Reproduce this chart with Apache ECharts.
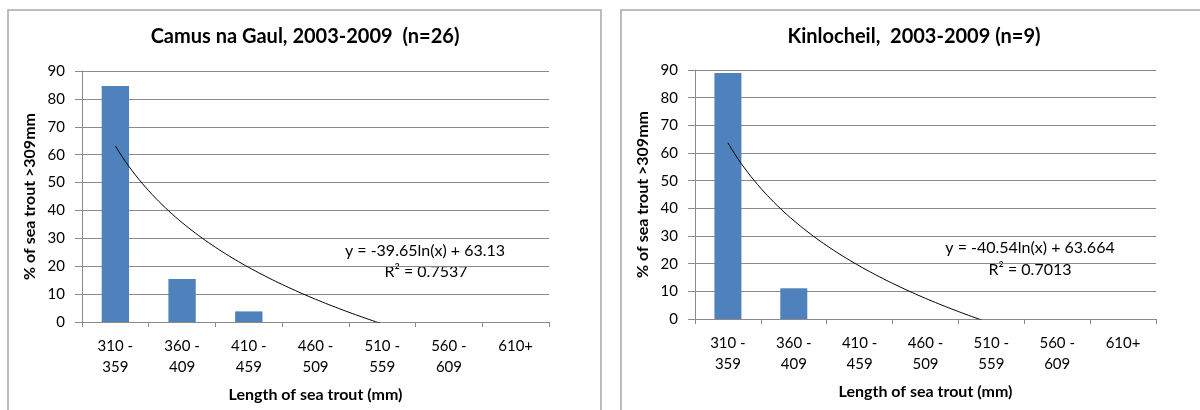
<!DOCTYPE html>
<html>
<head>
<meta charset="utf-8">
<script src="https://cdn.jsdelivr.net/npm/echarts@6/dist/echarts.min.js"></script>
<style>
html,body{margin:0;padding:0;background:#fff;}
#chart{width:1200px;height:410px;}
</style>
</head>
<body>
<div id="chart"></div>
<script>
// ---- data ----
const categories = ['310 -\n359', '360 -\n409', '410 -\n459', '460 -\n509', '510 -\n559', '560 -\n609', '610+'];
const camusValues = [84.6, 15.4, 3.8, 0, 0, 0, 0];
const kinlocheilValues = [88.9, 11.1, 0, 0, 0, 0, 0];
const yTickRange = [0, 90, 10]; // min, max, interval
const camusTrendCoef = [-39.65, 63.13];      // y = a ln(x) + b
const kinlocheilTrendCoef = [-40.54, 63.664];
const camusR2 = '0.7537';
const kinlocheilR2 = '0.7013';
const titles = ['Camus na Gaul, 2003-2009  (n=26)', 'Kinlocheil,  2003-2009 (n=9)'];
const yName = '% of sea trout >309mm';
const xName = 'Length of sea trout (mm)';

const FONT = 'Lato, "Open Sans", sans-serif';
const GRIDC = '#8a8a8a';

function trendPoints(coef, n) {
  const pts = [];
  for (let x = 1; x <= n; x += 0.05) {
    pts.push([x, coef[0] * Math.log(x) + coef[1]]);
  }
  return pts;
}

const grids = [
  {left: 82, top: 71, width: 467, height: 251},
  {left: 695, top: 70, width: 461, height: 249}
];

function xCat(i) {
  return {
    type: 'category', gridIndex: i, data: categories,
    axisLine: {show: true, lineStyle: {color: GRIDC}},
    axisTick: {show: true, length: 5, lineStyle: {color: GRIDC}},
    axisLabel: {color: '#000', fontFamily: FONT, fontSize: 15, lineHeight: 21, margin: 14},
    name: xName, nameLocation: 'middle', nameGap: 65,
    nameTextStyle: {color: '#000', fontFamily: FONT, fontSize: 16, fontWeight: 'bold'}
  };
}
function xVal(i) {
  return {type: 'value', gridIndex: i, min: 0.5, max: categories.length + 0.5, show: false};
}
function yAx(i) {
  return {
    type: 'value', gridIndex: i, min: yTickRange[0], max: yTickRange[1], interval: yTickRange[2],
    axisLine: {show: true, lineStyle: {color: GRIDC}},
    axisTick: {show: true, length: 7, lineStyle: {color: GRIDC}},
    splitLine: {show: true, lineStyle: {color: GRIDC, width: 1}},
    axisLabel: {color: '#000', fontFamily: FONT, fontSize: 15, margin: 17},
    name: yName, nameLocation: 'middle', nameRotate: 90, nameGap: 44,
    nameTextStyle: {color: '#000', fontFamily: FONT, fontSize: 16, fontWeight: 'bold'}
  };
}

const chart = echarts.init(document.getElementById('chart'), null, {renderer: 'canvas'});
chart.setOption({
  animation: false,
  backgroundColor: '#fff',
  grid: grids,
  xAxis: [xCat(0), xCat(1), xVal(0), xVal(1)],
  yAxis: [yAx(0), yAx(1)],
  series: [
    {type: 'bar', xAxisIndex: 0, yAxisIndex: 0, data: camusValues, barWidth: '41%',
     itemStyle: {color: '#4F81BD'}},
    {type: 'bar', xAxisIndex: 1, yAxisIndex: 1, data: kinlocheilValues, barWidth: '41%',
     itemStyle: {color: '#4F81BD'}},
    {type: 'line', xAxisIndex: 2, yAxisIndex: 0, data: trendPoints(camusTrendCoef, categories.length),
     showSymbol: false, clip: true, lineStyle: {color: '#000', width: 1}},
    {type: 'line', xAxisIndex: 3, yAxisIndex: 1, data: trendPoints(kinlocheilTrendCoef, categories.length),
     showSymbol: false, clip: true, lineStyle: {color: '#000', width: 1}}
  ],
  graphic: [
    {type: 'rect', shape: {x: 8, y: 10, width: 593, height: 420}, style: {fill: 'none', stroke: '#a6a6a6', lineWidth: 1.5}, silent: true},
    {type: 'rect', shape: {x: 621, y: 10, width: 620, height: 420}, style: {fill: 'none', stroke: '#a6a6a6', lineWidth: 1.5}, silent: true},
    {type: 'text', x: 305, y: 37, style: {text: titles[0], fontFamily: FONT, fontSize: 20, fontWeight: 'bold', fill: '#000', textAlign: 'center', textVerticalAlign: 'middle'}},
    {type: 'text', x: 914, y: 37, style: {text: titles[1], fontFamily: FONT, fontSize: 20, fontWeight: 'bold', fill: '#000', textAlign: 'center', textVerticalAlign: 'middle'}},
    {type: 'text', x: 425, y: 251, style: {text: 'y = ' + camusTrendCoef[0] + 'ln(x) + ' + camusTrendCoef[1], fontFamily: FONT, fontSize: 16, fill: '#000', textAlign: 'center', textVerticalAlign: 'middle'}},
    {type: 'text', x: 426, y: 272, style: {text: 'R² = ' + camusR2, fontFamily: FONT, fontSize: 16, fill: '#000', textAlign: 'center', textVerticalAlign: 'middle'}},
    {type: 'text', x: 1030, y: 248, style: {text: 'y = ' + kinlocheilTrendCoef[0] + 'ln(x) + ' + kinlocheilTrendCoef[1], fontFamily: FONT, fontSize: 16, fill: '#000', textAlign: 'center', textVerticalAlign: 'middle'}},
    {type: 'text', x: 1030, y: 270, style: {text: 'R² = ' + kinlocheilR2, fontFamily: FONT, fontSize: 16, fill: '#000', textAlign: 'center', textVerticalAlign: 'middle'}}
  ]
});
</script>
</body>
</html>
